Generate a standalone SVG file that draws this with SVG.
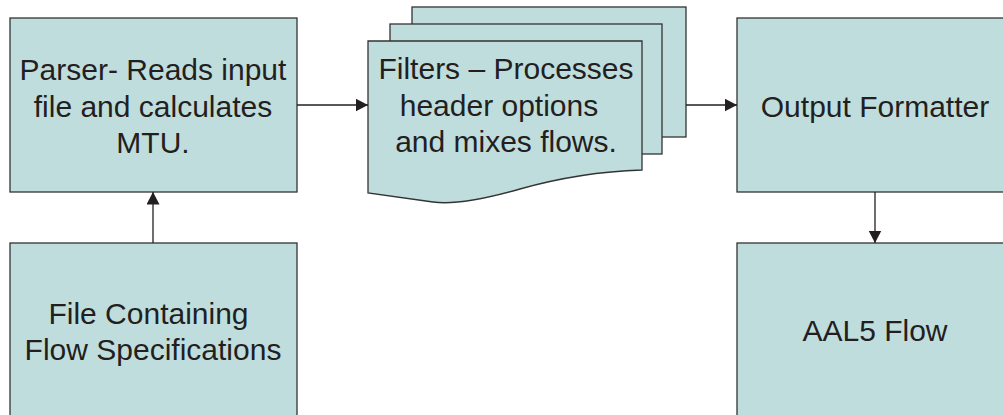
<svg xmlns="http://www.w3.org/2000/svg" width="1003" height="415" viewBox="0 0 1003 415">
  <style>
    .box { fill: #c0dddd; stroke: #333333; stroke-width: 1.3; }
    .lbl { font-family: "Liberation Sans", Arial, sans-serif; font-size: 30px; fill: #231f20; text-anchor: middle; }
    .conn { stroke: #231f20; stroke-width: 1.3; fill: none; marker-end: url(#arrow); }
  </style>
  <defs>
    <marker id="arrow" markerUnits="userSpaceOnUse" markerWidth="13" markerHeight="14" refX="12.5" refY="6.5" orient="auto">
      <path d="M0,0 L12.5,6.5 L0,13 Z" fill="#231f20"/>
    </marker>
  </defs>
  <rect width="1003" height="415" fill="#ffffff"/>

  <g id="parser">
    <rect class="box" x="10" y="18" width="287" height="174"/>
    <text class="lbl" x="153" y="80">Parser- Reads input</text>
    <text class="lbl" x="153" y="116.5">file and calculates</text>
    <text class="lbl" x="153" y="153">MTU.</text>
  </g>

  <g id="file">
    <rect class="box" x="10" y="243" width="287" height="190"/>
    <text class="lbl" x="148.5" y="323.5">File Containing</text>
    <text class="lbl" x="153" y="359.5">Flow Specifications</text>
  </g>

  <g id="filters">
    <rect class="box" x="412" y="7" width="274" height="130"/>
    <rect class="box" x="390" y="24" width="272" height="130"/>
    <path class="box" d="M368,41 H642 V170 Q580,172 520,189 T433,202 L368,193 Z"/>
    <text class="lbl" x="506" y="79">Filters – Processes</text>
    <text class="lbl" x="499" y="115.5">header options</text>
    <text class="lbl" x="506" y="152">and mixes flows.</text>
  </g>

  <g id="output">
    <rect class="box" x="737" y="18" width="290" height="174"/>
    <text class="lbl" x="875" y="116.5">Output Formatter</text>
  </g>

  <g id="aal5">
    <rect class="box" x="737" y="243" width="290" height="190"/>
    <text class="lbl" x="875" y="341">AAL5 Flow</text>
  </g>

  <g id="connectors">
    <line class="conn" x1="153" y1="243" x2="153" y2="192"/>
    <line class="conn" x1="297" y1="105" x2="368" y2="105"/>
    <line class="conn" x1="686" y1="105" x2="737" y2="105"/>
    <line class="conn" x1="875" y1="192" x2="875" y2="243"/>
  </g>
</svg>
